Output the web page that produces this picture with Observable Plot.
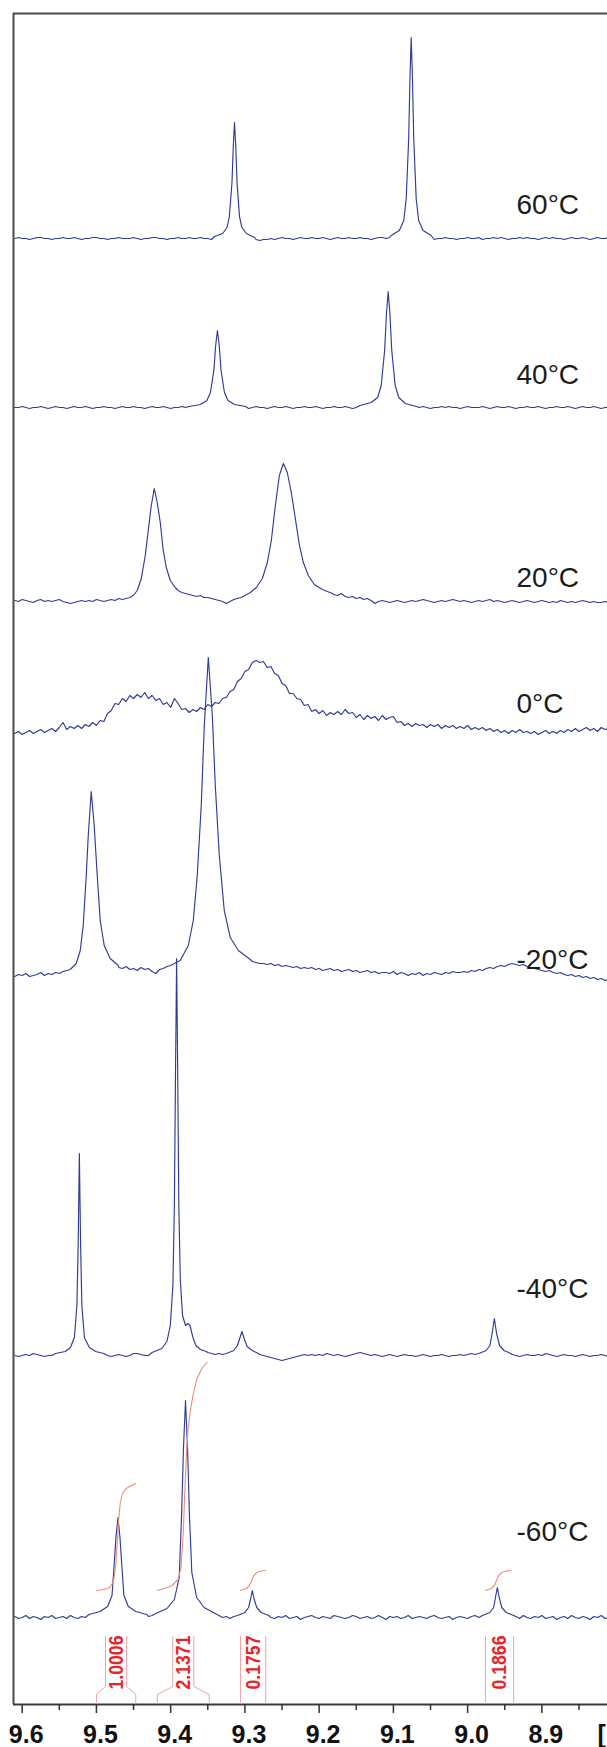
<!DOCTYPE html>
<html><head><meta charset="utf-8">
<script src="https://cdn.jsdelivr.net/npm/d3@7"></script>
<script src="https://cdn.jsdelivr.net/npm/@observablehq/plot@0.6"></script>
<style>
html,body{margin:0;padding:0;background:#fff;}
#chart svg{display:block;}
</style></head><body><div id="chart"></div>
<script>
// ---------------- DATA ----------------
const temps = ["60°C", "40°C", "20°C", "0°C", "-20°C", "-40°C", "-60°C"];
const majorTicks = [9.6, 9.5, 9.4, 9.3, 9.2, 9.1, 9.0, 8.9];
const minorTicks = [9.55, 9.45, 9.35, 9.25, 9.15, 9.05, 8.95, 8.85];
const axisUnit = "[ppm]";

// baseline/broad-shape samples every 0.005 ppm starting at 9.61 ppm (intensity above baseline)
const gridStart = 9.61, gridStep = 0.005;
const grid60 = [
 0,1,0,0,-1,0,1,1,0,0, -1,0,0,1,0,0,1,0,-1,0, 0,1,1,0,0,-1,0,0,1,0, 0,0,1,0,-1,0,0,1,1,0,
 0,-1,0,0,1,0,0,1,0,0, 1,0,0,-1,0,0,0,0,0,0, 0,0,0,0,0,-1,-2,-1,-1,0, -1,0,1,0,0,-1,0,1,0,0,
 1,0,0,1,0,-1,0,1,0,0, 1,0,0,1,0,0,-1,0,1,1, 0,1,0,0,0,0,0,0,0,0, 0,0,0,-1,0,0,1,0,0,-1,
 0,0,1,0,0,1,-1,0,0,1, 0,1,0,-1,0,0,1,0,1,0, 0,-1,0,1,0,1,0,0,-1,0, 1,0,0,1,0,-1,0,1,0,0, 1];
const grid40 = [
 0,0,1,0,-1,0,0,1,0,-1, 0,1,0,0,-1,0,1,0,0,1, 0,-1,0,0,1,0,0,-1,0,1, 0,0,1,0,0,-1,0,1,0,0,
 1,0,-1,0,0,1,0,0,0,0, 0,0,0,0,0,0,0,0,0,0, 0,0,0,-1,0,1,0,0,-1,0, 1,0,0,1,0,-1,0,0,1,0,
 0,1,0,-1,0,0,1,0,0,1, 0,-1,0,0,0,0,0,0,0,0, 0,0,0,0,0,0,0,0,0,0, 1,0,-1,0,0,1,0,1,0,0,
 -1,0,1,0,0,0,1,0,-1,0, 1,0,0,1,0,-1,0,0,1,0, 0,1,0,-1,0,0,1,0,0,1, 0,-1,0,1,0,0,1,0,-1,0, 0];
const grid20 = [
 0,-1,1,0,-1,-2,0,1,-1,0, -1,0,1,-1,-2,-3,-2,-1,0,-1, 0,-1,1,0,-1,0,1,0,2,1, 2,3,0,0,0,0,0,0,0,0,
 0,0,0,0,10,8,7,6,5,4, 5,3,3,2,1,0,-1,-3,-1,1, 2,3,5,7,0,0,0,0,0,0, 0,0,0,0,0,0,0,0,0,0,
 0,0,0,0,0,0,6,5,7,4, 3,4,2,3,1,2,0,-3,-1,0, -1,-2,-1,0,-1,-2,-1,0,-1,0, 1,0,-1,-2,-1,0,-1,0,1,0,
 -1,0,-1,-2,-1,0,-1,0,1,-1, 0,-1,-2,-1,0,-1,-2,-1,0,-1, -2,-1,0,-1,-2,-1,-2,0,-1,-2, -1,-2,-1,0,-1,-2,-1,-2,-2,-1, -2];
const grid0 = [
 0,2,-1,1,3,0,2,4,1,3, 5,2,6,11,4,7,5,8,5,9, 7,11,8,13,12,20,23,30,29,35, 32,38,35,39,36,41,35,38,33,35,
 29,31,26,35,30,24,25,21,24,22, 26,24,29,27,31,30,35,36,42,44, 52,55,62,64,71,73,71,72,66,67, 60,58,50,48,40,40,35,34,28,29,
 22,24,20,23,18,21,19,22,19,24, 20,21,16,19,14,18,15,17,13,18, 14,16,17,11,12,8,10,7,10,8, 9,6,9,7,9,5,8,6,8,5,
 7,5,8,4,6,4,6,3,5,2, 4,1,3,0,3,1,4,1,2,0, 2,-1,1,3,0,2,0,3,1,4, 2,5,2,4,6,3,5,2,6,4, 5];
const gridM20 = [
 -1,1,0,2,-1,0,1,3,0,2, 1,3,2,4,5,0,0,0,0,0, 0,0,0,0,0,0,0,0,8,7, 9,6,7,5,8,6,7,4,2,6,
 7,9,10,12,14,0,0,0,0,0, 0,0,0,0,0,0,0,0,0,0, 0,0,0,0,14,13,12,12,11,12, 10,11,9,10,9,8,9,7,8,7,
 8,6,7,5,6,7,5,6,4,5, 6,4,5,3,4,5,3,4,2,3, 3,2,4,1,3,2,0,2,1,3, 0,2,1,3,2,1,3,2,4,3,
 3,4,3,5,4,6,5,7,8,7, 9,10,9,11,12,11,10,11,9,8, 7,6,5,4,5,3,2,3,1,0, 1,-1,0,-2,-1,-3,-2,-4,-3,-5, -4];
const gridM40 = [
 0,-1,0,1,0,2,1,0,-1,0, 0,0,0,0,0,0,0,0,0,0, 0,0,0,0,0,0,-1,0,1,0, -1,0,2,2,1,0,0,0,0,0,
 0,0,0,0,0,0,0,0,0,0, 0,0,3,2,1,2,1,0,0,0, 0,0,0,0,0,0,1,0,-1,-2, -3,-4,-5,-4,-3,-2,-1,0,1,0,
 1,0,1,0,2,1,0,1,0,-1, 0,1,2,3,2,1,0,1,0,-1, 0,1,0,-1,0,1,0,0,-1,0, 1,0,-1,0,0,1,0,-1,0,0,
 1,0,1,2,1,0,0,0,0,0, 0,0,0,0,1,0,-1,0,1,0, 0,1,0,2,1,0,-1,0,1,0, 0,-1,0,1,0,-1,0,0,1,0, -1];
const gridM60 = [
 1,-1,0,2,-1,1,0,-2,1,0, 2,-1,0,1,-1,2,0,-1,1,0, 0,0,0,0,0,0,0,0,0,0, 0,0,0,0,0,0,1,2,0,0,
 0,0,0,0,0,0,0,0,0,0, 0,0,0,0,0,2,0,1,-1,1, 0,0,0,0,0,0,0,0,0,0, -1,1,0,2,-1,0,1,-2,0,1,
 2,0,-1,1,0,-1,2,1,0,-1, 0,2,1,-1,0,1,-1,0,2,0, -2,1,0,1,-1,0,2,-1,0,1, 0,-1,1,2,0,-1,0,1,-2,0,
 1,0,-1,1,2,0,0,0,0,0, 0,0,0,0,0,1,-1,2,0,-1, 1,0,2,-1,0,1,-2,0,1,-1, 2,0,-1,1,0,-2,1,0,2,-1, 0];

// narrow peaks: [ppm, intensity] points
const peaks60 = [
 [[9.341,2],[9.330,5],[9.324,11],[9.321,22],[9.3174,56],[9.3157,92],[9.314,116],[9.3123,92],[9.3106,56],[9.3073,22],[9.304,11],[9.298,5],[9.287,1]],
 [[9.103,3],[9.092,8],[9.086,18],[9.0827,40],[9.0794,100],[9.0777,160],[9.076,201],[9.0743,160],[9.0726,100],[9.0693,40],[9.066,18],[9.060,8],[9.049,3]]];
const peaks40 = [
 [[9.375,1],[9.360,3],[9.3512,7],[9.3464,15],[9.3417,38],[9.3394,62],[9.337,77],[9.3346,62],[9.3323,38],[9.3276,15],[9.3228,7],[9.314,3],[9.299,1]],
 [[9.145,2],[9.130,5],[9.1212,10],[9.1164,22],[9.1117,58],[9.1094,93],[9.107,116],[9.1046,93],[9.1023,58],[9.0976,22],[9.0928,10],[9.084,4],[9.069,1]]];
const peaks20 = [
 [[9.4504,5],[9.4450,10],[9.4396,22],[9.4342,45],[9.4302,70],[9.4261,95],[9.4221,112],[9.4181,98],[9.4140,78],[9.4100,50],[9.4059,33],[9.4005,20],[9.3938,13]],
 [[9.2927,8],[9.2846,13],[9.2765,22],[9.2698,38],[9.2644,60],[9.2590,95],[9.2536,125],[9.2482,137],[9.2429,128],[9.2375,108],[9.2321,82],[9.2267,56],[9.2213,38],[9.2146,25],[9.2065,16],[9.1957,11],[9.1822,7]]];
const peaks0 = [];
const peaksM20 = [
 [[9.5353,6],[9.5272,12],[9.5218,25],[9.5178,50],[9.5137,100],[9.5110,140],[9.5070,184],[9.5030,150],[9.4989,100],[9.4949,55],[9.4895,30],[9.4814,17],[9.4706,10]],
 [[9.3871,15],[9.3763,30],[9.3695,55],[9.3642,100],[9.3588,170],[9.3547,250],[9.3493,318],[9.3439,260],[9.3399,190],[9.3345,120],[9.3278,65],[9.3197,38],[9.3089,25],[9.2927,16]]];
const peaksM40 = [
 [[9.555,2],[9.542,4],[9.535,8],[9.5297,18],[9.5263,50],[9.5246,110],[9.523,202],[9.5213,110],[9.5196,50],[9.5162,18],[9.5095,8],[9.501,4],[9.490,2]],
 [[9.425,3],[9.412,7],[9.405,14],[9.4005,30],[9.397,70],[9.395,150],[9.3935,280],[9.392,397],[9.3905,280],[9.389,150],[9.387,75],[9.384,40],[9.380,30],[9.377,32],[9.374,30],[9.370,18],[9.366,10],[9.360,6],[9.352,4]],
 [[9.325,2],[9.315,5],[9.310,10],[9.307,17],[9.304,24],[9.301,17],[9.297,9],[9.290,5],[9.282,2]],
 [[8.985,2],[8.975,5],[8.970,10],[8.967,22],[8.964,37],[8.961,22],[8.957,10],[8.951,5],[8.942,2]]];
const peaksM60 = [
 [[9.510,3],[9.495,6],[9.485,11],[9.479,22],[9.4764,50],[9.4737,80],[9.471,100],[9.4683,80],[9.4656,50],[9.463,22],[9.457,11],[9.447,6],[9.432,3]],
 [[9.420,4],[9.405,9],[9.395,18],[9.3885,40],[9.3854,100],[9.3827,170],[9.380,217],[9.3773,170],[9.3746,100],[9.3715,45],[9.365,20],[9.355,10],[9.340,4]],
 [[9.310,2],[9.300,5],[9.295,10],[9.2925,18],[9.290,27],[9.2875,18],[9.284,10],[9.278,5],[9.268,2]],
 [[8.980,2],[8.970,5],[8.965,10],[8.9625,20],[8.960,30],[8.9575,20],[8.954,10],[8.948,5],[8.938,2]]];

// integration of the -60°C spectrum
const intFrom = [9.500, 9.418, 9.306, 8.976];
const intTo = [9.447, 9.348, 9.272, 8.938];
const intValues = ["1.0006", "2.1371", "0.1757", "0.1866"];
const intCurve1 = [[9.500,27],[9.490,28],[9.482,30],[9.477,36],[9.474,52],[9.472,75],[9.470,98],[9.468,114],[9.465,124],[9.460,129],[9.453,132],[9.447,134]];
const intCurve2 = [[9.418,27],[9.408,29],[9.398,32],[9.390,38],[9.386,50],[9.383,85],[9.381,125],[9.379,160],[9.377,185],[9.374,204],[9.370,222],[9.365,238],[9.358,249],[9.351,255]];
const intCurve3 = [[9.306,27],[9.298,29],[9.294,32],[9.291,37],[9.288,42],[9.284,45],[9.278,46.5],[9.272,47]];
const intCurve4 = [[8.976,27],[8.968,29],[8.964,32],[8.961,37],[8.958,42],[8.954,45],[8.948,46.5],[8.942,47]];

// ---------------- LAYOUT ----------------
const W = 607, H = 1747;
const M = {top: 13, right: 0, bottom: 43, left: 13};
const xDomain = [9.6117, 8.8116];
const yDomain = [0, 1691];
const offsets = [1466, 1297, 1104, 971, 729, 349, 87];   // stacking baseline of each trace
const labelLift = [25, 24, 14, 21, 7, 58, 77];
const bracket = {bottom: 1, knee: 10, shoulder: 18, top: 68, textMid: 42, half: 0.0142};
const FONT = "'Liberation Sans', Arial, Helvetica, sans-serif";
const NARROW = "'Liberation Sans Narrow', 'Arial Narrow', 'Liberation Sans', Arial, sans-serif";
const BLUE = "#2f3b98";
const RED = "#e3262b";

// ---------------- BUILD ----------------
const grids = [grid60, grid40, grid20, grid0, gridM20, gridM40, gridM60];
const peaks = [peaks60, peaks40, peaks20, peaks0, peaksM20, peaksM40, peaksM60];
function build(grid, pk) {
  const spans = pk.map(p => [d3.min(p, d => d[0]), d3.max(p, d => d[0])]);
  const pts = [];
  grid.forEach((v, i) => {
    const ppm = +(gridStart - gridStep * i).toFixed(4);
    if (!spans.some(([lo, hi]) => ppm >= lo - 1e-9 && ppm <= hi + 1e-9)) pts.push([ppm, v]);
  });
  pk.forEach(p => p.forEach(d => pts.push(d)));
  pts.sort((a, b) => b[0] - a[0]);
  return pts;
}
const rows = [];
temps.forEach((t, s) => build(grids[s], peaks[s]).forEach(([ppm, v]) => rows.push({t, ppm, y: offsets[s] + v})));

const intRows = [];
[intCurve1, intCurve2, intCurve3, intCurve4].forEach((c, k) => c.forEach(([ppm, v]) => intRows.push({k, ppm, y: offsets[6] + v})));

const brRows = [];
intFrom.forEach((a, k) => {
  const b = intTo[k], m = (a + b) / 2;
  const straight = (a - b) < 0.045;
  const lx = straight ? a : Math.min(a, m + bracket.half);
  const rx = straight ? b : Math.max(b, m - bracket.half);
  [[a, lx, "L"], [b, rx, "R"]].forEach(([e, s, side]) => {
    const id = k + side;
    brRows.push({id, ppm: e, y: bracket.bottom}, {id, ppm: e, y: bracket.knee}, {id, ppm: s, y: bracket.shoulder}, {id, ppm: s, y: bracket.top});
  });
});

const chart = Plot.plot({
  width: W, height: H,
  marginTop: M.top, marginRight: M.right, marginBottom: M.bottom, marginLeft: M.left,
  style: {fontFamily: FONT, background: "#fff", overflow: "hidden"},
  x: {domain: xDomain, axis: null, label: null},
  y: {domain: yDomain, axis: null, label: null},
  marks: [
    Plot.ruleX([xDomain[0]], {y1: 0, y2: yDomain[1], stroke: "#4a4a4a", strokeWidth: 2}),
    Plot.ruleY([yDomain[1]], {stroke: "#4a4a4a", strokeWidth: 2}),
    Plot.ruleY([0], {stroke: "#3a3a3a", strokeWidth: 2}),
    Plot.axisX({ticks: minorTicks, tickSize: 6, tickFormat: () => "", stroke: "#333", strokeWidth: 1.5, label: null}),
    Plot.axisX({ticks: majorTicks, tickSize: 9, tickFormat: () => "", stroke: "#333", strokeWidth: 1.5, label: null}),
    Plot.text(majorTicks, {x: d => d, y: 0, dy: 21, dx: 4, text: d => d3.format(".1f")(d), lineAnchor: "top", fontSize: 25, fontWeight: "bold", fill: "#111"}),
    Plot.text([axisUnit], {frameAnchor: "bottom-right", dy: 21, dx: -10, textAnchor: "start", lineAnchor: "top", fontSize: 25, fontWeight: "bold", fill: "#111"}),
    Plot.line(rows, {x: "ppm", y: "y", z: "t", stroke: BLUE, strokeWidth: 1.15, clip: true}),
    Plot.line(intRows, {x: "ppm", y: "y", z: "k", stroke: "#ee8c78", strokeWidth: 1.1}),
    Plot.line(brRows, {x: "ppm", y: "y", z: "id", stroke: "#f0a3a3", strokeWidth: 1}),
    Plot.text(intValues, {x: (d, i) => (intFrom[i] + intTo[i]) / 2, y: bracket.textMid, text: d => d, rotate: -90, textAnchor: "middle", lineAnchor: "middle", fontSize: 21, fontWeight: "bold", fontFamily: NARROW, fill: RED}),
    Plot.text(temps, {frameAnchor: "right", dx: -91, y: (d, i) => offsets[i] + labelLift[i], text: d => d, textAnchor: "start", lineAnchor: "bottom", fontSize: 28, fill: "#1c1c1c"})
  ]
});
// keep the condensed integral labels at the printed length
d3.select(chart).selectAll(`g[fill="${RED}"] text`).attr("textLength", 54).attr("lengthAdjust", "spacingAndGlyphs");
document.getElementById("chart").appendChild(chart);
</script></body></html>
